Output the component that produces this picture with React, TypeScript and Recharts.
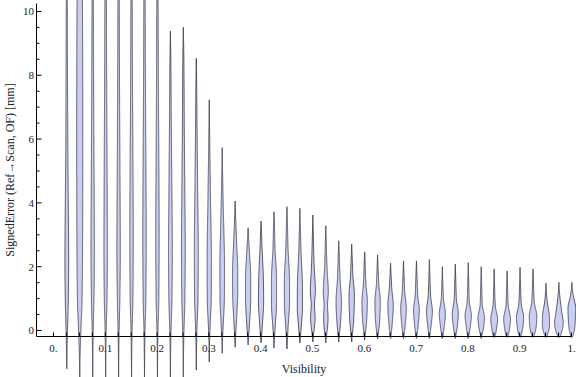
import React from 'react';
import { ComposedChart, Bar, XAxis, YAxis } from 'recharts';

// ---- data ----
const violinX = [
  0.025, 0.05, 0.075, 0.1, 0.125, 0.15, 0.175, 0.2, 0.225, 0.25,
  0.275, 0.3, 0.325, 0.35, 0.375, 0.4, 0.425, 0.45, 0.475, 0.5,
  0.525, 0.55, 0.575, 0.6, 0.625, 0.65, 0.675, 0.7, 0.725, 0.75,
  0.775, 0.8, 0.825, 0.85, 0.875, 0.9, 0.925, 0.95, 0.975, 1.0,
];
const violinMin = [
  -1.2, -1.6, -1.5, -1.5, -1.5, -1.5, -1.5, -1.5, -1.5, -1.5,
  -1.24, -0.99, -0.71, -0.52, -0.45, -0.39, -0.55, -0.58, -0.39, -0.36,
  -0.39, -0.36, -0.36, -0.3, -0.27, -0.25, -0.25, -0.25, -0.25, -0.25,
  -0.25, -0.25, -0.25, -0.22, -0.22, -0.22, -0.22, -0.22, -0.22, -0.22,
];
const violinMax = [
  11.5, 14, 12.5, 13, 12.5, 12.5, 12.5, 12.5, 9.39, 9.51,
  8.54, 7.23, 5.73, 4.06, 3.22, 3.43, 3.72, 3.88, 3.83, 3.62,
  3.28, 2.81, 2.71, 2.46, 2.37, 2.11, 2.18, 2.18, 2.23, 2.0,
  2.08, 2.13, 2.0, 1.93, 1.87, 1.98, 1.93, 1.48, 1.51, 1.51,
];
// density profile knots: [value, density]
const violinDensity: number[][][] = [
  [[-0.6, 0.3], [0, 0.8], [1, 1.7], [2.2, 2.1], [3.5, 1.8], [5.5, 1.2], [8, 0.8], [10.5, 0.5]],
  [[-0.8, 0.4], [0, 1.3], [1, 2.6], [3, 3.2], [6, 3.4], [9, 3.2], [11.5, 2.6]],
  [[-0.8, 0.2], [-0.1, 0.5], [1, 1.4], [2.5, 1.9], [5, 1.5], [8, 1.0], [10.5, 0.7]],
  [[-0.8, 0.2], [-0.1, 0.5], [1, 1.5], [2.5, 1.9], [5, 1.6], [8, 1.1], [10.5, 0.8]],
  [[-0.8, 0.2], [-0.1, 0.5], [1, 1.4], [2.5, 1.9], [5, 1.5], [8, 1.0], [10.5, 0.7]],
  [[-0.8, 0.2], [-0.1, 0.5], [1, 1.5], [3, 1.9], [5.5, 1.5], [8, 1.0], [10.5, 0.7]],
  [[-0.8, 0.2], [-0.1, 0.5], [1, 1.5], [3, 1.9], [5.5, 1.5], [8, 1.0], [10.5, 0.7]],
  [[-0.8, 0.2], [-0.1, 0.5], [1, 1.5], [3, 1.9], [5.5, 1.5], [8, 1.0], [10.5, 0.7]],
  [[-0.8, 0.2], [-0.1, 0.6], [1, 1.7], [2.5, 2.1], [4.5, 1.6], [6.5, 1.0], [8.5, 0.5]],
  [[-0.8, 0.2], [-0.1, 0.6], [1, 1.7], [2.5, 2.1], [4.5, 1.6], [6.5, 1.0], [8.5, 0.6]],
  [[-0.7, 0.2], [0, 0.7], [1, 1.9], [2.5, 2.2], [4.5, 1.5], [6.5, 0.8], [7.8, 0.4]],
  [[-0.5, 0.2], [0.1, 0.9], [1, 2.2], [2.2, 2.4], [4, 1.5], [5.8, 0.6]],
  [[-0.4, 0.2], [0.1, 1.0], [1, 2.4], [2, 2.6], [3.5, 1.5], [4.8, 0.5]],
  [[-0.3, 0.3], [0.2, 1.3], [1.2, 2.8], [1.8, 2.9], [2.8, 1.6], [3.6, 0.5]],
  [[-0.3, 0.3], [0.2, 1.5], [1, 2.9], [1.6, 2.9], [2.5, 1.4], [3, 0.4]],
  [[-0.3, 0.3], [0.2, 1.5], [0.9, 2.9], [1.6, 2.6], [2.6, 1.1], [3.2, 0.4]],
  [[-0.35, 0.3], [0.2, 1.5], [0.8, 2.8], [1.6, 2.8], [2.6, 1.1], [3.4, 0.4]],
  [[-0.4, 0.3], [0.2, 1.5], [0.8, 2.8], [1.5, 2.9], [2.6, 1.2], [3.5, 0.4]],
  [[-0.3, 0.3], [0.2, 1.7], [0.7, 2.9], [1.4, 2.8], [2.5, 1.2], [3.4, 0.4]],
  [[-0.25, 0.3], [0.4, 2.5], [0.8, 1.8], [1.25, 2.8], [2, 1.5], [3, 0.5]],
  [[-0.3, 0.3], [0.4, 2.5], [0.8, 1.9], [1.2, 2.8], [2, 1.3], [2.9, 0.4]],
  [[-0.25, 0.3], [0.3, 2.1], [0.9, 3.0], [1.6, 1.5], [2.4, 0.5]],
  [[-0.25, 0.3], [0.3, 2.1], [1.1, 3.0], [1.7, 1.4], [2.4, 0.4]],
  [[-0.2, 0.3], [0.3, 2.2], [0.9, 3.0], [1.5, 1.3], [2.2, 0.4]],
  [[-0.2, 0.3], [0.3, 2.3], [0.9, 3.0], [1.5, 1.2], [2.1, 0.4]],
  [[-0.2, 0.3], [0.2, 1.8], [0.8, 3.0], [1.3, 1.4], [1.8, 0.5]],
  [[-0.2, 0.3], [0.2, 2.0], [0.7, 3.1], [1.2, 1.4], [1.8, 0.5]],
  [[-0.2, 0.3], [0.2, 2.1], [0.65, 3.2], [1.1, 1.4], [1.8, 0.5]],
  [[-0.2, 0.3], [0.2, 2.1], [0.6, 3.3], [1.1, 1.3], [1.8, 0.5]],
  [[-0.2, 0.4], [0.2, 2.4], [0.5, 3.4], [1.0, 1.2], [1.6, 0.4]],
  [[-0.2, 0.4], [0.2, 2.5], [0.5, 3.4], [1.0, 1.2], [1.7, 0.4]],
  [[-0.2, 0.4], [0.2, 2.6], [0.45, 3.5], [0.9, 1.2], [1.7, 0.4]],
  [[-0.2, 0.4], [0.15, 2.9], [0.4, 3.6], [0.8, 1.2], [1.6, 0.4]],
  [[-0.2, 0.5], [0.15, 3.1], [0.35, 3.8], [0.8, 1.2], [1.5, 0.4]],
  [[-0.2, 0.5], [0.15, 3.2], [0.35, 3.8], [0.8, 1.2], [1.5, 0.4]],
  [[-0.2, 0.5], [0.15, 3.3], [0.4, 4.0], [0.85, 1.3], [1.6, 0.4]],
  [[-0.2, 0.6], [0.2, 3.8], [0.45, 4.2], [0.9, 1.4], [1.6, 0.4]],
  [[-0.2, 0.6], [0.2, 4.0], [0.45, 3.8], [0.9, 1.4], [1.2, 0.5]],
  [[-0.2, 0.8], [0.25, 4.8], [0.5, 3.6], [0.95, 1.5], [1.25, 0.5]],
  [[-0.2, 0.8], [0.3, 3.8], [0.7, 4.3], [1.05, 1.9], [1.3, 0.5]],
];

const xTickLabels = ['0.', '0.1', '0.2', '0.3', '0.4', '0.5', '0.6', '0.7', '0.8', '0.9', '1.'];
const yTickLabels = ['0', '2', '4', '6', '8', '10'];

// ---- layout / style ----
const X_MIN = -0.0328;
const X_MAX = 1.0;
const Y_MIN = -0.188;
const Y_MAX = 10.25;
const xTicks = Array.from({ length: 41 }, (_, i) => i * 0.025);
const yTicks = Array.from({ length: 21 }, (_, i) => i * 0.5);
const FONT = '"Liberation Serif", "Times New Roman", serif';
const FILL = '#c8cff3';
const EDGE = '#3a3a48';
const DENSITY_PX = 0.9;

const rows = violinX.map((x, i) => ({
  x,
  lo: violinMin[i],
  hi: violinMax[i],
  knots: violinDensity[i],
}));

const clamp = (v: number) => Math.max(Y_MIN, Math.min(Y_MAX, v));
const rangeKey = (d: any) => [clamp(d.lo), clamp(d.hi)];

function pchip(xs: number[], ys: number[]) {
  const n = xs.length;
  const h: number[] = [];
  const d: number[] = [];
  for (let i = 0; i < n - 1; i++) {
    h.push(xs[i + 1] - xs[i]);
    d.push((ys[i + 1] - ys[i]) / (xs[i + 1] - xs[i]));
  }
  const m: number[] = new Array(n).fill(0);
  m[0] = d[0];
  m[n - 1] = d[n - 2];
  for (let i = 1; i < n - 1; i++) {
    if (d[i - 1] * d[i] <= 0) m[i] = 0;
    else {
      const w1 = 2 * h[i] + h[i - 1];
      const w2 = h[i] + 2 * h[i - 1];
      m[i] = (w1 + w2) / (w1 / d[i - 1] + w2 / d[i]);
    }
  }
  return (x: number) => {
    let k = 0;
    while (k < n - 2 && x > xs[k + 1]) k++;
    const t = (x - xs[k]) / h[k];
    const t2 = t * t;
    const t3 = t2 * t;
    const v =
      (2 * t3 - 3 * t2 + 1) * ys[k] +
      (t3 - 2 * t2 + t) * h[k] * m[k] +
      (-2 * t3 + 3 * t2) * ys[k + 1] +
      (t3 - t2) * h[k] * m[k + 1];
    return Math.max(0, v);
  };
}

const Violin = (props: any) => {
  const { x, y, width, height, payload } = props;
  if (!payload || x == null) return null;
  const cx = x + width / 2;
  const lo = clamp(payload.lo);
  const hi = clamp(payload.hi);
  const top = Math.min(y, y + height);
  const bot = Math.max(y, y + height);
  const k = (bot - top) / (hi - lo);
  const toPx = (v: number) => bot - (v - lo) * k;
  const pts: number[][] = [[payload.lo, 0], ...payload.knots, [payload.hi, 0]];
  const f = pchip(pts.map((p) => p[0]), pts.map((p) => p[1]));
  const steps = Math.max(40, Math.ceil((payload.hi - payload.lo) * k));
  const right: string[] = [];
  const left: string[] = [];
  for (let s = 0; s <= steps; s++) {
    const v = payload.lo + ((payload.hi - payload.lo) * s) / steps;
    const w = f(v) * DENSITY_PX;
    const py = toPx(v);
    right.push(`${(cx + w).toFixed(2)},${py.toFixed(2)}`);
    left.unshift(`${(cx - w).toFixed(2)},${py.toFixed(2)}`);
  }
  const d = `M${right.join('L')}L${left.join('L')}Z`;
  return <path d={d} fill={FILL} stroke={EDGE} strokeOpacity={0.8} strokeWidth={1} strokeLinejoin="round" />;
};

const xLabelFor = (v: number) => {
  const t = v * 10;
  const r = Math.round(t);
  return Math.abs(t - r) < 1e-6 ? xTickLabels[r] : null;
};
const yLabelFor = (v: number) => {
  const t = v / 2;
  const r = Math.round(t);
  return Math.abs(t - r) < 1e-6 ? yTickLabels[r] : null;
};

const BottomTick = (props: any) => {
  const { x, y, payload } = props;
  const label = xLabelFor(payload.value);
  return (
    <g>
      <line x1={x} x2={x} y1={y} y2={y - 4} stroke="#000" strokeWidth={1} />
      {label && (
        <text x={x} y={y + 15.5} textAnchor="middle" fontSize={11} fontFamily={FONT} fill="#222">
          {label}
        </text>
      )}
    </g>
  );
};
const TopTick = (props: any) => {
  const { x, y } = props;
  return <line x1={x} x2={x} y1={y} y2={y + 4} stroke="#000" strokeWidth={1} />;
};
const LeftTick = (props: any) => {
  const { x, y, payload } = props;
  const label = yLabelFor(payload.value);
  const len = label ? 5 : 3;
  return (
    <g>
      <line x1={x} x2={x + len} y1={y} y2={y} stroke="#000" strokeWidth={1} />
      {label && (
        <text x={x - 2.5} y={y} dy="0.35em" textAnchor="end" fontSize={11} fontFamily={FONT} fill="#222">
          {label}
        </text>
      )}
    </g>
  );
};
const RightTick = (props: any) => {
  const { x, y, payload } = props;
  const len = yLabelFor(payload.value) ? 5 : 3;
  return <line x1={x} x2={x - len} y1={y} y2={y} stroke="#000" strokeWidth={1} />;
};

export default function App() {
  return (
    <div style={{ position: 'absolute', left: 0, top: 0, width: 576, height: 377, background: '#fff' }}>
      <ComposedChart
        width={576}
        height={377}
        data={rows}
        margin={{ top: 3.5, right: 4.5, left: 0, bottom: 0 }}
      >
        <XAxis
          xAxisId="b"
          type="number"
          dataKey="x"
          domain={[X_MIN, X_MAX]}
          ticks={xTicks}
          interval={0}
          tickLine={false}
          tickSize={0}
          tickMargin={0}
          tick={<BottomTick />}
          height={40.5}
          axisLine={{ stroke: '#000' }}
          label={{ value: 'Visibility', position: 'insideBottom', offset: 4.5, fontSize: 12, fontFamily: FONT, fill: '#222' }}
        />
        <XAxis
          xAxisId="t"
          orientation="top"
          type="number"
          dataKey="x"
          domain={[X_MIN, X_MAX]}
          ticks={xTicks}
          interval={0}
          tickLine={false}
          tickSize={0}
          tickMargin={0}
          tick={<TopTick />}
          height={0}
          axisLine={{ stroke: '#000' }}
        />
        <YAxis
          yAxisId="l"
          type="number"
          domain={[Y_MIN, Y_MAX]}
          ticks={yTicks}
          interval={0}
          tickLine={false}
          tickSize={0}
          tickMargin={0}
          tick={<LeftTick />}
          width={36.5}
          axisLine={{ stroke: '#000' }}
          label={{
            value: 'SignedError (Ref\u2192Scan, OF) [mm]',
            angle: -90,
            position: 'insideLeft',
            offset: 9.5,
            fontSize: 12,
            fontFamily: FONT,
            fill: '#222',
            style: { textAnchor: 'middle' },
          }}
        />
        <YAxis
          yAxisId="r"
          orientation="right"
          type="number"
          domain={[Y_MIN, Y_MAX]}
          ticks={yTicks}
          interval={0}
          tickLine={false}
          tickSize={0}
          tickMargin={0}
          tick={<RightTick />}
          width={0}
          axisLine={{ stroke: '#000' }}
        />
        <Bar
          xAxisId="b"
          yAxisId="l"
          dataKey={rangeKey}
          barSize={14}
          shape={<Violin />}
          isAnimationActive={false}
        />
      </ComposedChart>
    </div>
  );
}
